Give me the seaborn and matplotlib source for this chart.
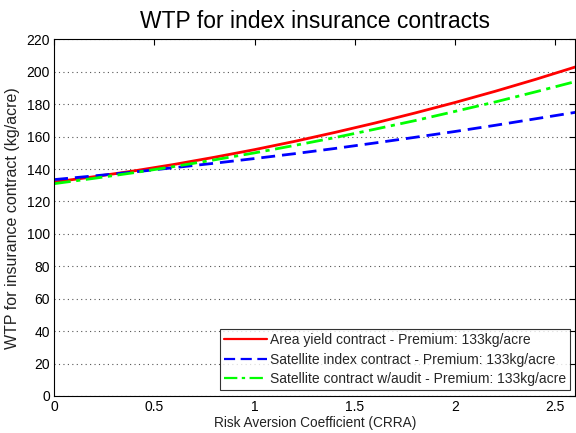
import matplotlib
matplotlib.use("Agg")
import matplotlib.pyplot as plt
import seaborn as sns
import pandas as pd

crra = [0.0, 0.2, 0.4, 0.6, 0.8, 1.0, 1.2, 1.4, 1.6, 1.8, 2.0, 2.2, 2.4, 2.6]
area_yield = [132.0, 135.3, 138.9, 142.9, 147.3, 152.0, 157.1, 162.6, 168.4, 174.6, 181.1, 188.0, 195.3, 203.0]
satellite_index = [133.5, 135.8, 138.2, 140.9, 143.6, 146.5, 149.5, 152.7, 156.1, 159.6, 163.2, 167.0, 171.0, 175.0]
satellite_audit = [131.0, 134.3, 137.8, 141.6, 145.7, 150.0, 154.6, 159.4, 164.6, 169.9, 175.6, 181.4, 187.6, 194.0]

labels = ["Area yield contract - Premium: 133kg/acre",
          "Satellite index contract - Premium: 133kg/acre",
          "Satellite contract w/audit - Premium: 133kg/acre"]
colors = ["#FF0000", "#0000FF", "#00FF00"]
styles = ["-", (0, (5, 2.5)), (0, (6, 2, 1.5, 2))]
xticks = [0, 0.5, 1, 1.5, 2, 2.5]
yticks = list(range(0, 221, 20))

sns.set_theme(style="white")
plt.rcParams['font.family'] = ['Liberation Sans', 'DejaVu Sans']

fig = plt.figure(figsize=(5.76, 4.33), dpi=100)
ax = fig.add_axes([0.094, 0.0855, 0.905, 0.8235])

series = [area_yield, satellite_index, satellite_audit]
for vals, lab, col, ls in zip(series, labels, colors, styles):
    df = pd.DataFrame({"x": crra, "y": vals})
    sns.lineplot(data=df, x="x", y="y", ax=ax, color=col, linewidth=2,
                 linestyle=ls, label=lab)

ax.set_xlim(0, 2.6)
ax.set_ylim(0, 220)
ax.set_xticks(xticks)
ax.set_xticklabels(["0", "0.5", "1", "1.5", "2", "2.5"])
ax.set_yticks(yticks)
ax.yaxis.grid(True, linestyle=(0, (1, 3)), color="#555555", linewidth=0.8)
ax.xaxis.grid(False)
ax.tick_params(direction="in", top=True, right=True, length=4, width=0.8,
               labelsize=10, colors="black", pad=3)
for s in ax.spines.values():
    s.set_color("black")
    s.set_linewidth(0.8)

ax.set_xlabel("Risk Aversion Coefficient (CRRA)", fontsize=9.8, color="#222222", labelpad=1)
ax.set_ylabel("WTP for insurance contract (kg/acre)", fontsize=11.5, color="#222222", labelpad=5)
ax.set_title("WTP for index insurance contracts", fontsize=16.5, color="black", pad=8)

leg = ax.legend(loc="lower right", fontsize=10, frameon=True, fancybox=False,
                edgecolor="black", handlelength=3.1, borderpad=0.3,
                labelspacing=0.4, handletextpad=0.2, borderaxespad=0.4)
leg.get_frame().set_linewidth(0.8)
for h in leg.get_lines():
    h.set_linewidth(1.6)

fig.savefig("out.png", dpi=100, facecolor="white")
